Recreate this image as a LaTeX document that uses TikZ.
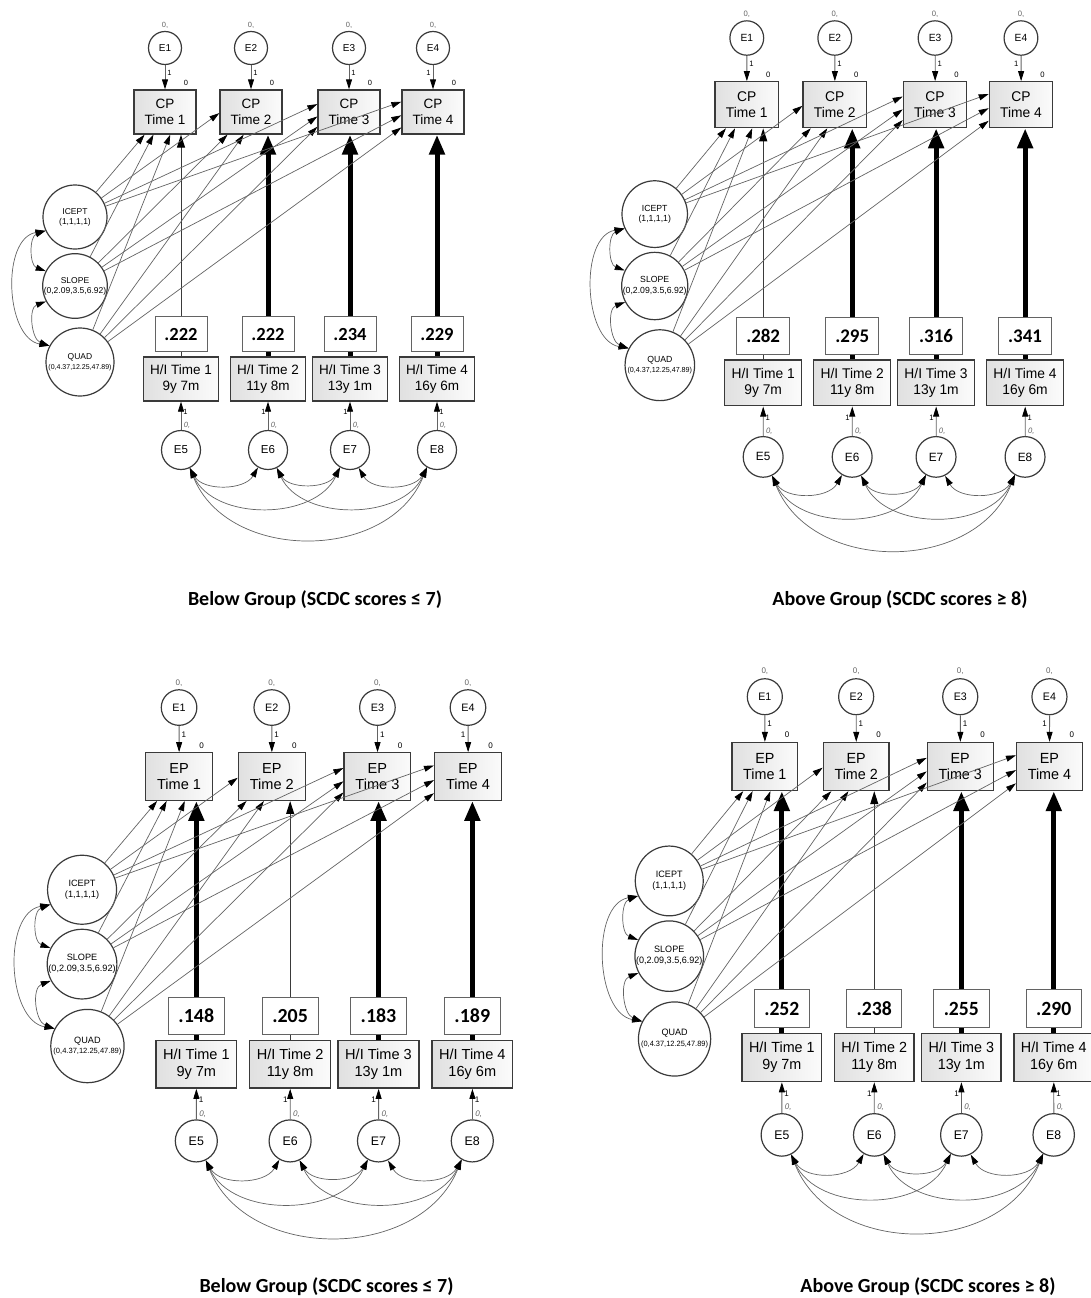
\documentclass[tikz,border=0pt]{standalone}
\usepackage{fontspec}
\setmainfont{Liberation Sans}
\newfontfamily\calfont{Carlito}
\usetikzlibrary{arrows.meta}
\definecolor{linea}{HTML}{636363}
\definecolor{borde}{HTML}{3A3A3A}

% one latent growth model: #1 prefix, #2 placement, #3 measure,
% #4-#7 coefficients, #8 column whose H/I path is thin
\newcommand{\growthpanel}[8]{%
  \begin{scope}[#2, transform shape]
    \node[factor] (#1-ic) at (75,-217) {ICEPT\\(1,1,1,1)};
    \node[factor] (#1-sl) at (75,-286) {SLOPE\\(0,2.09,3.5,6.92)};
    \node[factor, minimum size=68pt] (#1-qd) at (80,-362)
      {QUAD\\{\fontsize{7}{8}\selectfont(0,4.37,12.25,47.89)}};
    \foreach \ex/\hx/\ts/\bs [count=\i] in {165/181/1/1, 251/268/1/-1, 349/350/1/-1, 433/437/-1/1} {
      \pgfmathtruncatemacro\j{\i+4}
      \ifnum\i=#8\relax \tikzset{reg/.style=weak}\else \tikzset{reg/.style=strong}\fi
      \node[errtop] (#1-e\i) at (\ex,-48) {E\i};
      \node[obs] (#1-cp\i) at (\ex,-112) {#3\\Time \i};
      \node[obs, minimum width=75pt] (#1-hi\i) at (\hx,-379)
        {H/I Time \i\\\ifcase\i\or 9y 7m\or 11y 8m\or 13y 1m\or 16y 6m\fi};
      \node[errbot] (#1-e\j) at (\hx,-450) {E\j};
      \node[smalllbl, text=linea] (#1-m\i) at (\ex,-25) {0,};
      \node[smalllbl] (#1-z\i) at (\ex+21,-83) {0};
      \node[smalllbl] (#1-u\i) at (\ex+4.5*\ts,-73) {1};
      \node[smalllbl] (#1-w\i) at (\hx+4.5*\bs,-412) {1};
      \node[smalllbl, text=linea, font=\fontsize{7.5}{8}\selectfont\itshape] (#1-n\i) at (\hx+6,-425) {0,};
      \draw[fixpath] (#1-e\i) -- (#1-cp\i);
      \draw[fixpath] (#1-e\j) -- (#1-hi\i);
      \draw[reg] (#1-hi\i.north) -- (#1-hi\i.north |- #1-cp\i.south);
      \node[coef] (#1-v\i) at (\hx,-334) {\ifcase\i\or#4\or#5\or#6\or#7\fi};
    }
    % growth factors to the repeated measure
    \foreach \f/\c/\a in {ic/1/228, sl/1/243, qd/1/283, ic/2/182, sl/2/224, qd/2/252,
                          ic/3/166, sl/3/188, qd/3/205, ic/4/162, sl/4/186, qd/4/206}
      \draw[load] (#1-\f) -- (#1-cp\c.\a);
    % covariances
    \draw[cov] (#1-ic.205) to[out=200, in=160, looseness=1.1] (#1-sl.153);
    \draw[cov] (#1-sl.208) to[out=200, in=160, looseness=1.1] (#1-qd.152);
    \draw[cov] (#1-ic.205) to[out=190, in=170] (#1-qd.152);
    \foreach \p/\q/\o/\n/\l in {5/6/-60/-120/1, 6/7/-60/-120/1, 7/8/-60/-120/1,
                                5/7/-65/-115/1, 6/8/-65/-115/1, 5/8/-68/-112/1.1}
      \draw[cov] (#1-e\p.296) to[out=\o, in=\n, looseness=\l] (#1-e\q.240);
  \end{scope}}

\begin{document}
\begin{tikzpicture}[x=1pt, y=1pt,
    >={Triangle[length=10pt, width=6pt, color=black]},
    factor/.style={circle, draw=borde, line width=1.2pt, minimum size=64pt, inner sep=0pt,
                   align=center, font=\fontsize{8.5}{10}\selectfont},
    errtop/.style={circle, draw=borde, line width=1.2pt, minimum size=33pt, inner sep=0pt,
                   font=\fontsize{10}{11}\selectfont},
    errbot/.style={errtop, minimum size=39pt, font=\fontsize{11.5}{12}\selectfont},
    obs/.style={rectangle, draw=borde, line width=1.3pt, left color=gray!24, right color=gray!3,
                minimum width=62pt, minimum height=44pt, inner sep=1pt, align=center,
                font=\fontsize{13.5}{15.5}\selectfont},
    coef/.style={rectangle, draw=linea, line width=0.8pt, fill=white, minimum width=52pt,
                 minimum height=35pt, font=\calfont\bfseries\fontsize{18.5}{19}\selectfont},
    smalllbl/.style={inner sep=0pt, font=\fontsize{7.5}{8}\selectfont},
    caption/.style={font=\calfont\bfseries\fontsize{20}{24}\selectfont},
    fixpath/.style={draw=linea, line width=0.8pt, ->},
    load/.style={draw=linea, line width=0.7pt, ->},
    cov/.style={draw=linea, line width=0.7pt, <->},
    weak/.style={draw=borde, line width=1pt, -{Triangle[length=13pt, width=8pt, color=black]}},
    strong/.style={draw=black, line width=5pt, -{Triangle[length=20pt, width=15pt]}}]
  \useasboundingbox (0,0) rectangle (1091,-1298);

  \growthpanel{a}{}{CP}{.222}{.222}{.234}{.229}{1}
  \growthpanel{b}{shift={(578,12)}, xscale=1.023, yscale=1.042}{CP}{.282}{.295}{.316}{.341}{1}
  \growthpanel{c}{shift={(1.2,-655.8)}, scale=1.078}{EP}{.148}{.205}{.183}{.189}{2}
  \growthpanel{d}{shift={(589.6,-644.4)}, xscale=1.062, yscale=1.09}{EP}{.252}{.238}{.255}{.290}{2}

  \node[caption] (cap-a) at (315,-600) {Below Group (SCDC scores ≤ 7)};
  \node[caption] (cap-b) at (900,-600) {Above Group (SCDC scores ≥ 8)};
  \node[caption] (cap-c) at (326.5,-1287) {Below Group (SCDC scores ≤ 7)};
  \node[caption] (cap-d) at (928,-1287) {Above Group (SCDC scores ≥ 8)};
\end{tikzpicture}
\end{document}
